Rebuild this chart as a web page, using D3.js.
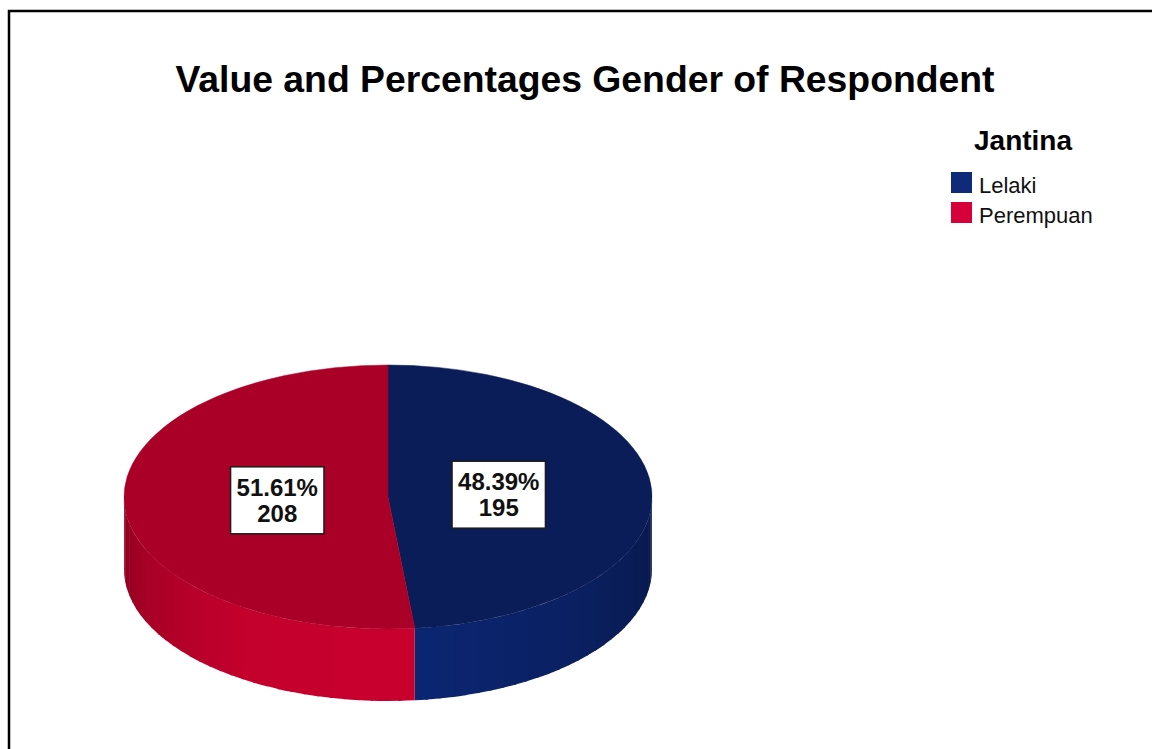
<!DOCTYPE html>
<html>
<head>
<meta charset="utf-8">
<script src="https://cdn.jsdelivr.net/npm/d3@7/dist/d3.min.js"></script>
<style>
  html, body { margin: 0; padding: 0; background: #fff; }
  svg { display: block; font-family: Arial, "Liberation Sans", sans-serif; }
</style>
</head>
<body>
<svg id="chart" width="1152" height="749"></svg>
<script>
// Respondent counts by gender
const categories = ["Lelaki", "Perempuan"];
const counts = [195, 208];
const chartTitle = "Value and Percentages Gender of Respondent";
const legendTitle = "Jantina";

// Colours
const topColors = ["#0b1d58", "#aa0028"];
const legendColors = ["#0e2a78", "#d6003a"];
const sideShade = [
  d3.scaleLinear().domain([90, 130, 175]).range(["#07184a", "#0a1f5e", "#0b2672"]).clamp(true),
  d3.scaleLinear().domain([174, 212, 245, 270]).range(["#c9002e", "#c4002d", "#a80026", "#8a001f"]).clamp(true)
];

const svg = d3.select("#chart");

// Outer frame (runs past the right and bottom edge)
svg.append("rect")
  .attr("x", 9).attr("y", 11).attr("width", 1300).attr("height", 900)
  .attr("fill", "none").attr("stroke", "#000").attr("stroke-width", 2.5);

// Title
svg.append("text")
  .attr("x", 585).attr("y", 92)
  .attr("text-anchor", "middle")
  .attr("font-size", 37).attr("font-weight", "bold")
  .attr("textLength", 819).attr("lengthAdjust", "spacingAndGlyphs")
  .attr("fill", "#000")
  .text(chartTitle);

// Legend
const legend = svg.append("g").attr("transform", "translate(951,0)");
legend.append("text")
  .attr("x", 72).attr("y", 150)
  .attr("text-anchor", "middle")
  .attr("font-size", 28).attr("font-weight", "bold")
  .text(legendTitle);
const items = legend.selectAll("g.item").data(categories).join("g")
  .attr("class", "item")
  .attr("transform", (d, i) => `translate(0,${172 + i * 30})`);
items.append("rect")
  .attr("width", 21).attr("height", 21)
  .attr("fill", (d, i) => legendColors[i]);
items.append("text")
  .attr("x", 28).attr("y", 21)
  .attr("font-size", 22)
  .attr("fill", "#111")
  .text(d => d);

// 3D pie geometry
const cx = 388, cy = 497, rx = 264, ry = 132, depth = 72;
const total = d3.sum(counts);
const pie = d3.pie().sort(null).value(d => d.value);
const arcs = pie(categories.map((c, i) => ({ name: c, value: counts[i], idx: i })));

const pt = (a, dy = 0) => [cx + rx * Math.sin(a), cy - ry * Math.cos(a) + dy];
const deg = a => a * 180 / Math.PI;
const rad = d => d * Math.PI / 180;

// Side wall, drawn as narrow shaded bands over the front-facing half;
// each band overlaps the next a little so no seams show
const sideG = svg.append("g");
arcs.forEach(s => {
  const a0 = Math.max(s.startAngle, Math.PI / 2);
  const a1 = Math.min(s.endAngle, 3 * Math.PI / 2);
  if (a1 <= a0) return;
  const n = Math.ceil((a1 - a0) / rad(3));
  for (let k = 0; k < n; k++) {
    const b0 = a0 + (a1 - a0) * k / n;
    const b1 = k < n - 1 ? a0 + (a1 - a0) * (k + 1) / n + rad(0.6) : a1;
    const p0 = pt(b0), p1 = pt(b1), q1 = pt(b1, depth), q0 = pt(b0, depth);
    const col = sideShade[s.data.idx](deg(a0 + (a1 - a0) * (k + 0.5) / n));
    sideG.append("path")
      .attr("d", `M${p0}A${rx},${ry} 0 0 1 ${p1}L${q1}A${rx},${ry} 0 0 0 ${q0}Z`)
      .attr("fill", col);
  }
});

// Top faces
svg.append("g").selectAll("path").data(arcs).join("path")
  .attr("d", s => {
    const p0 = pt(s.startAngle), p1 = pt(s.endAngle);
    const large = (s.endAngle - s.startAngle) > Math.PI ? 1 : 0;
    return `M${cx},${cy}L${p0}A${rx},${ry} 0 ${large} 1 ${p1}Z`;
  })
  .attr("fill", s => topColors[s.data.idx])
  .attr("stroke", s => topColors[s.data.idx]).attr("stroke-width", 0.5);

// Value labels
const labelG = svg.append("g").selectAll("g").data(arcs).join("g")
  .attr("transform", s => {
    const m = (s.startAngle + s.endAngle) / 2;
    const f = 0.42;
    return `translate(${cx + rx * f * Math.sin(m)},${cy - ry * f * Math.cos(m)})`;
  });
const box = labelG.append("rect");
const txt = labelG.append("text")
  .attr("text-anchor", "middle")
  .attr("font-size", 24).attr("font-weight", "bold")
  .attr("fill", "#111");
txt.append("tspan").attr("x", 0).attr("y", -4)
  .text(s => (s.data.value / total * 100).toFixed(2) + "%");
txt.append("tspan").attr("x", 0).attr("y", 22)
  .text(s => s.data.value);
box.each(function () {
  const t = d3.select(this.parentNode).select("text").node();
  const w = t.getBBox().width + 12;
  d3.select(this)
    .attr("x", -w / 2).attr("y", -33).attr("width", w).attr("height", 67)
    .attr("fill", "#fff").attr("stroke", "#1a1a1a").attr("stroke-width", 1.5);
});
</script>
</body>
</html>
